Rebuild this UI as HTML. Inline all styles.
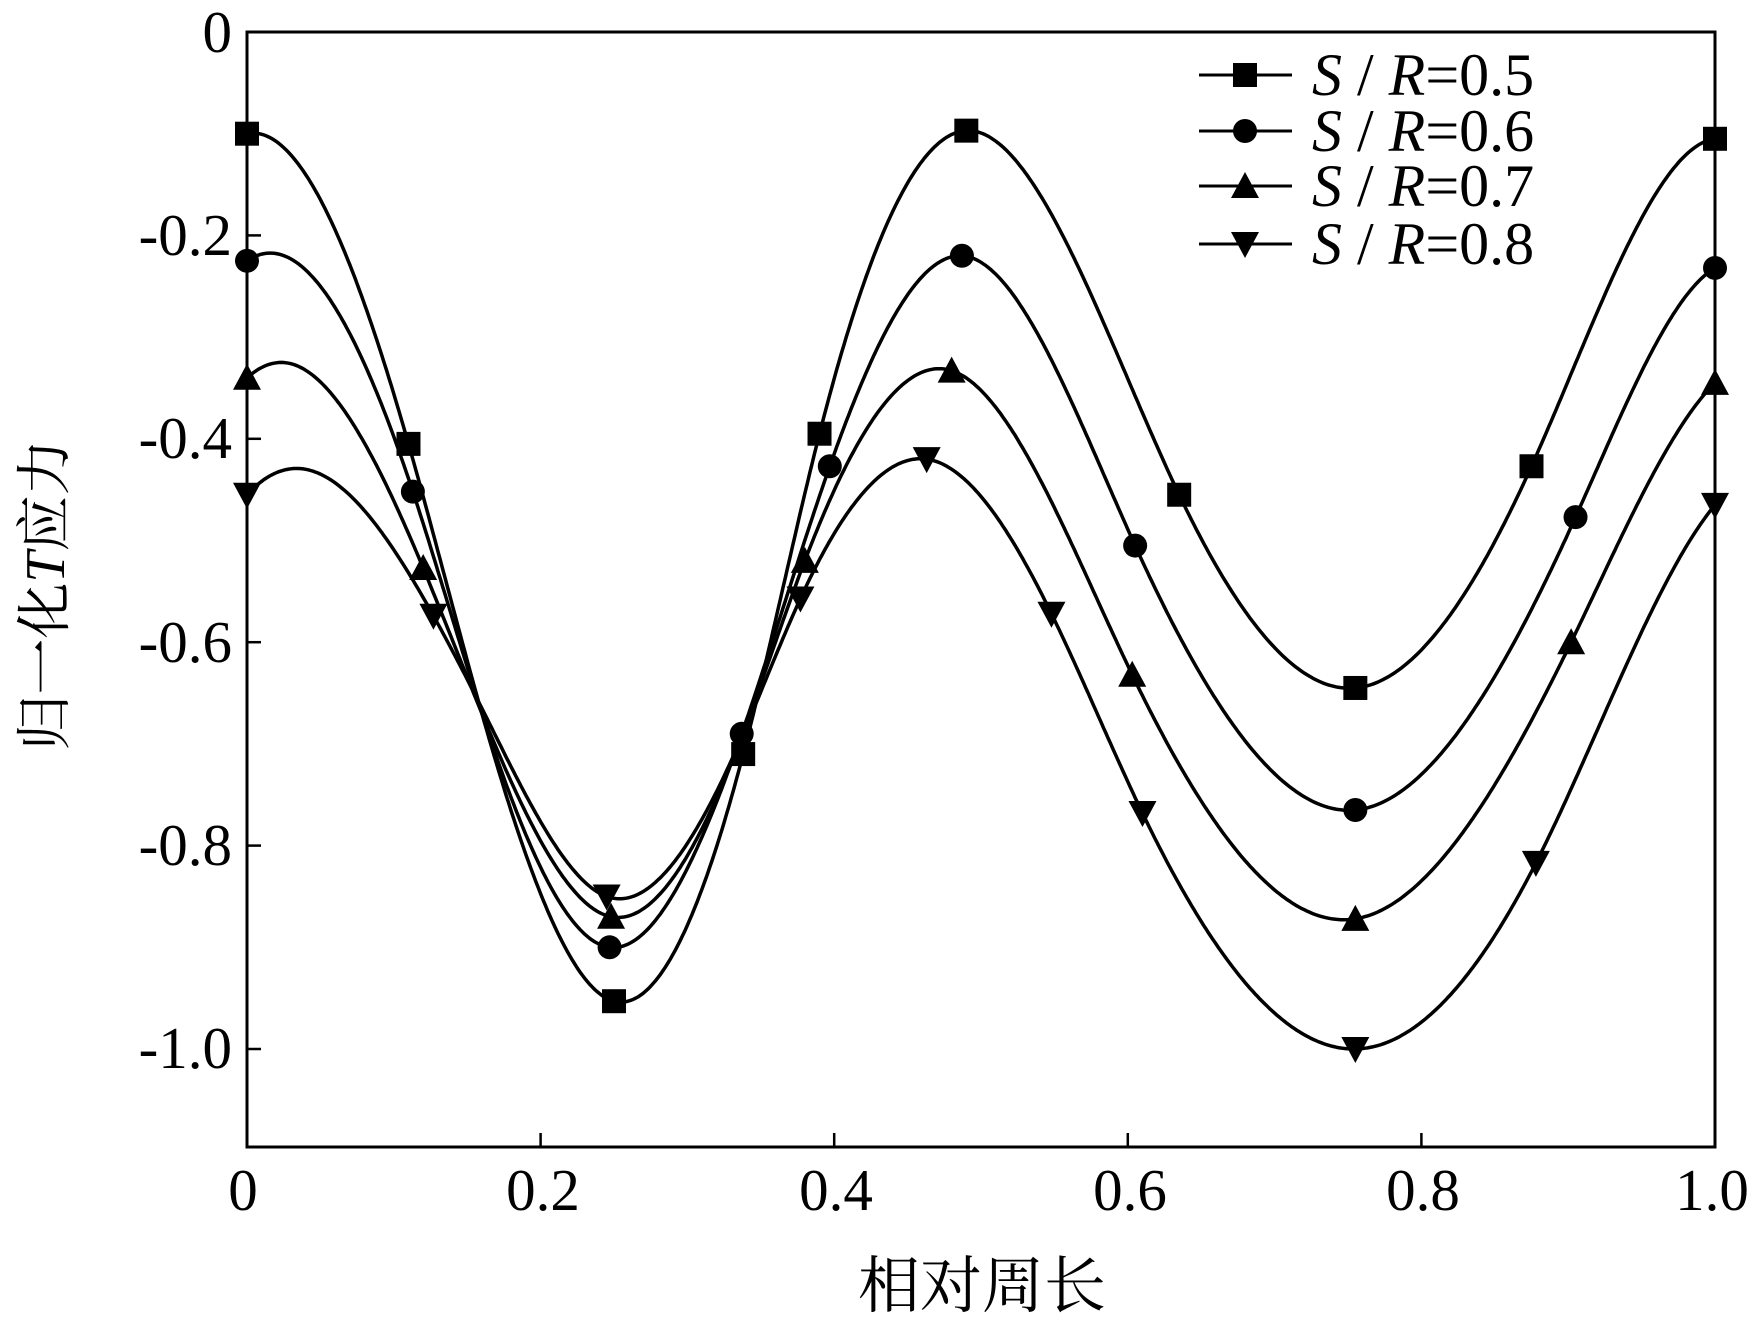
<!DOCTYPE html>
<html><head><meta charset="utf-8"><style>
html,body{margin:0;padding:0;background:#fff;}
svg{display:block;}
text{font-family:"Liberation Serif","Noto Serif CJK SC",serif;fill:#000;}
</style></head><body>
<svg id="s" width="1761" height="1324" viewBox="0 0 1761 1324" xmlns="http://www.w3.org/2000/svg">
<defs><clipPath id="cp"><rect x="247" y="32" width="1468" height="1115"/></clipPath></defs>
<rect x="247" y="32" width="1468" height="1115" fill="none" stroke="#000" stroke-width="3"/>
<g id="ticks" stroke="#000" stroke-width="2.5"></g>
<g font-size="59" text-anchor="end">
<text x="232" y="52">0</text>
<text x="232" y="255">-0.2</text>
<text x="232" y="458">-0.4</text>
<text x="232" y="662">-0.6</text>
<text x="232" y="865">-0.8</text>
<text x="232" y="1068">-1.0</text>
</g>
<g font-size="59" text-anchor="middle">
<text x="243" y="1210">0</text>
<text x="543" y="1210">0.2</text>
<text x="836" y="1210">0.4</text>
<text x="1130" y="1210">0.6</text>
<text x="1423" y="1210">0.8</text>
<text x="1712" y="1210">1.0</text>
</g>
<text x="982" y="1307" font-size="62" text-anchor="middle">相对周长</text>
<text transform="translate(64,595) rotate(-90)" font-size="56" text-anchor="middle">归一化<tspan font-style="italic">T</tspan>应力</text>
<g id="curves" fill="none" stroke="#000" stroke-width="3.5"></g>
<g id="marks" fill="#000"></g>
<g id="legend"></g>
</svg>
<script>
var NS="http://www.w3.org/2000/svg";
function X(v){return 247+v*1468;}
function Y(v){return 32-v*1017;}
function el(p,t,a){var e=document.createElementNS(NS,t);for(var k in a)e.setAttribute(k,a[k]);p.appendChild(e);return e;}
var tk=document.getElementById('ticks');
[0.2,0.4,0.6,0.8].forEach(function(v){el(tk,'line',{x1:X(v),x2:X(v),y1:1147,y2:1133});});
[-0.2,-0.4,-0.6,-0.8,-1.0].forEach(function(v){el(tk,'line',{x1:247,x2:261,y1:Y(v),y2:Y(v)});});
var S=[
 {m:'sq',p:[[0,-0.1,1],[0.11,-0.405,1],[0.16,-0.67,0],[0.25,-0.953,1],[0.338,-0.71,1],[0.39,-0.395,1],[0.49,-0.097,1],[0.635,-0.455,1],[0.755,-0.645,1],[0.875,-0.427,1],[1.0,-0.105,1]]},
 {m:'ci',p:[[0,-0.225,1],[0.113,-0.452,1],[0.16,-0.67,0],[0.247,-0.9,1],[0.337,-0.69,1],[0.397,-0.427,1],[0.487,-0.22,1],[0.605,-0.505,1],[0.755,-0.765,1],[0.905,-0.477,1],[1,-0.232,1]]},
 {m:'up',p:[[0,-0.34,1],[0.025,-0.325,0],[0.12,-0.527,1],[0.16,-0.67,0],[0.248,-0.87,1],[0.335,-0.7,0],[0.38,-0.52,1],[0.48,-0.333,1],[0.603,-0.632,1],[0.755,-0.872,1],[0.902,-0.6,1],[1,-0.345,1]]},
 {m:'dn',p:[[0,-0.455,1],[0.04,-0.43,0],[0.127,-0.574,1],[0.16,-0.665,0],[0.245,-0.85,1],[0.335,-0.7,0],[0.377,-0.557,1],[0.463,-0.42,1],[0.548,-0.572,1],[0.61,-0.768,1],[0.755,-1.0,1],[0.878,-0.817,1],[1,-0.465,1]]}
];
function spline(pts){
 var n=pts.length,x=pts.map(function(p){return p[0]}),y=pts.map(function(p){return p[1]});
 var h=[],a=[],l=[1],mu=[0],z=[0],c=new Array(n).fill(0),b=[],d=[];
 for(var i=0;i<n-1;i++)h[i]=x[i+1]-x[i];
 for(i=1;i<n-1;i++)a[i]=3/h[i]*(y[i+1]-y[i])-3/h[i-1]*(y[i]-y[i-1]);
 for(i=1;i<n-1;i++){l[i]=2*(x[i+1]-x[i-1])-h[i-1]*mu[i-1];mu[i]=h[i]/l[i];z[i]=(a[i]-h[i-1]*z[i-1])/l[i];}
 for(i=n-2;i>=0;i--){c[i]=(i>0?z[i]-mu[i]*c[i+1]:0);b[i]=(y[i+1]-y[i])/h[i]-h[i]*(c[i+1]+2*c[i])/3;d[i]=(c[i+1]-c[i])/(3*h[i]);}
 return function(t){var k=0;while(k<n-2&&t>x[k+1])k++;var dx=t-x[k];return y[k]+b[k]*dx+c[k]*dx*dx+d[k]*dx*dx*dx;};
}
var cg=document.getElementById('curves'),mg=document.getElementById('marks');
function marker(g,t,x,y){
 var r=12;
 if(t=='sq')el(g,'rect',{x:x-r,y:y-r,width:2*r,height:2*r});
 else if(t=='ci')el(g,'circle',{cx:x,cy:y,r:r});
 else if(t=='up')el(g,'polygon',{points:(x)+','+(y-r-2)+' '+(x-r-2)+','+(y+r)+' '+(x+r+2)+','+(y+r)});
 else el(g,'polygon',{points:(x)+','+(y+r+2)+' '+(x-r-2)+','+(y-r)+' '+(x+r+2)+','+(y-r)});
}
S.forEach(function(s){
 var p=s.p,n=p.length;
 var ext=[[p[n-3][0]-1,p[n-3][1]],[p[n-2][0]-1,p[n-2][1]]].concat(p,[[p[1][0]+1,p[1][1]],[p[2][0]+1,p[2][1]]]);
 var f=spline(ext);
 var d='';for(var i=0;i<=600;i++){var x=i/600;d+=(i?'L':'M')+X(x).toFixed(1)+','+Y(f(x)).toFixed(1);}
 el(cg,'path',{d:d});
 p.forEach(function(q){if(q[2])marker(mg,s.m,X(q[0]),Y(q[1]));});
});
var lg=document.getElementById('legend');
var ly=[75,131,186,244],lab=['5','6','7','8'];
S.forEach(function(s,i){
 el(lg,'line',{x1:1199,x2:1292,y1:ly[i],y2:ly[i],stroke:'#000','stroke-width':3});
 marker(lg,s.m,1245,ly[i]);
 var t=el(lg,'text',{x:1312,y:ly[i]+20,'font-size':60});
 t.innerHTML='<tspan font-style="italic">S</tspan> / <tspan font-style="italic">R</tspan>=0.'+lab[i];
});
</script>
</body></html>
